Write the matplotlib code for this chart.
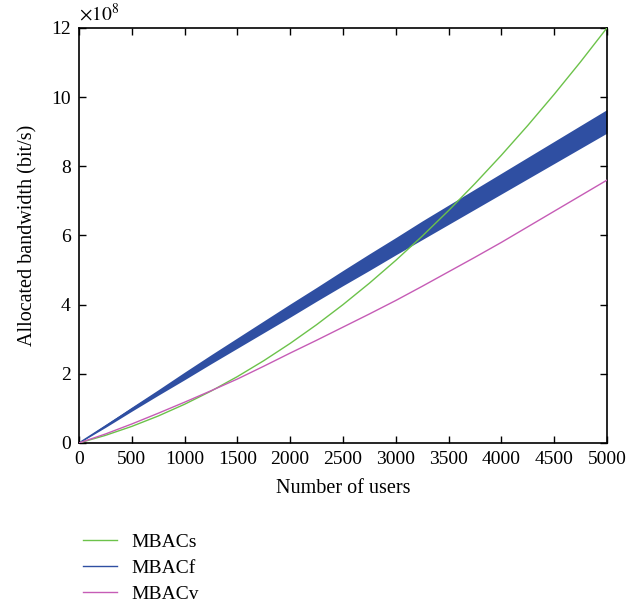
import numpy as np
import matplotlib
matplotlib.use('Agg')
import matplotlib.pyplot as plt
from matplotlib.ticker import FuncFormatter

# values in units of 1e8 bit/s
users = [0, 250, 500, 750, 1000, 1250, 1500, 1750, 2000, 2250, 2500,
         2750, 3000, 3250, 3500, 3750, 4000, 4250, 4500, 4750, 5000]
mbac_s = [0.0, 0.22, 0.48, 0.78, 1.12, 1.5, 1.92, 2.38, 2.88, 3.42, 4.0,
          4.62, 5.28, 5.98, 6.72, 7.5, 8.32, 9.18, 10.08, 11.02, 12.0]
mbac_v = [0.0, 0.26, 0.55, 0.86, 1.18, 1.51, 1.85, 2.22, 2.6, 2.97, 3.35,
          3.73, 4.12, 4.53, 4.95, 5.37, 5.8, 6.25, 6.7, 7.15, 7.6]
mbac_f = [0.0, 0.49, 0.98, 1.46, 1.94, 2.42, 2.89, 3.36, 3.83, 4.3, 4.77,
          5.23, 5.69, 6.15, 6.6, 7.05, 7.5, 7.95, 8.4, 8.85, 9.3]
# noisy band around MBACf (upper / lower envelope)
mbac_f_hi = [0.02, 0.53, 1.04, 1.54, 2.05, 2.55, 3.04, 3.53, 4.02, 4.5, 4.99,
             5.47, 5.94, 6.42, 6.88, 7.34, 7.8, 8.26, 8.72, 9.18, 9.64]
mbac_f_lo = [0.0, 0.45, 0.92, 1.38, 1.83, 2.29, 2.74, 3.19, 3.64, 4.1, 4.55,
             4.99, 5.44, 5.88, 6.32, 6.76, 7.2, 7.64, 8.08, 8.52, 8.96]

x = np.array(users)
scale = 1e8

plt.rcParams['font.family'] = ['Liberation Serif', 'DejaVu Serif']
plt.rcParams['mathtext.fontset'] = 'stix'

fig = plt.figure(figsize=(6.43, 6.08), dpi=100)
ax = fig.add_axes([0.1229, 0.2714, 0.821, 0.6826])

c_s = '#6cc24a'
c_f = '#2f4fa2'
c_v = '#c65cb6'

ax.plot(x, np.array(mbac_s) * scale, color=c_s, lw=1.0, label='MBACs', zorder=3)
ax.fill_between(x, np.array(mbac_f_lo) * scale, np.array(mbac_f_hi) * scale,
                color=c_f, lw=0, zorder=2)
ax.plot(x, np.array(mbac_f) * scale, color=c_f, lw=1.0, label='MBACf', zorder=2)
ax.plot(x, np.array(mbac_v) * scale, color=c_v, lw=1.0, label='MBACv', zorder=3)

ax.set_xlim(0, 5000)
ax.set_ylim(0, 12e8)
ax.set_xticks(np.arange(0, 5001, 500))
ax.set_yticks(np.arange(0, 12.1e8, 2e8))
ax.yaxis.set_major_formatter(FuncFormatter(lambda v, p: f"{v / scale:.0f}"))
ax.text(0.0, 1.008, r'$\times 10^{8}$', transform=ax.transAxes,
        fontsize=14, ha='left', va='bottom')

ax.tick_params(direction='in', top=True, right=True, length=5, width=1,
               labelsize=14, pad=6)
for sp in ax.spines.values():
    sp.set_linewidth(1.2)

ax.set_xlabel('Number of users', fontsize=14.5, labelpad=8)
ax.set_ylabel('Allocated bandwidth (bit/s)', fontsize=14.5, labelpad=10)

ax.legend(loc='upper left', bbox_to_anchor=(-0.025, -0.176), frameon=False,
          fontsize=14, handlelength=1.75, handletextpad=0.7, labelspacing=0.42)

plt.savefig('out.png', dpi=100)
plt.close()
